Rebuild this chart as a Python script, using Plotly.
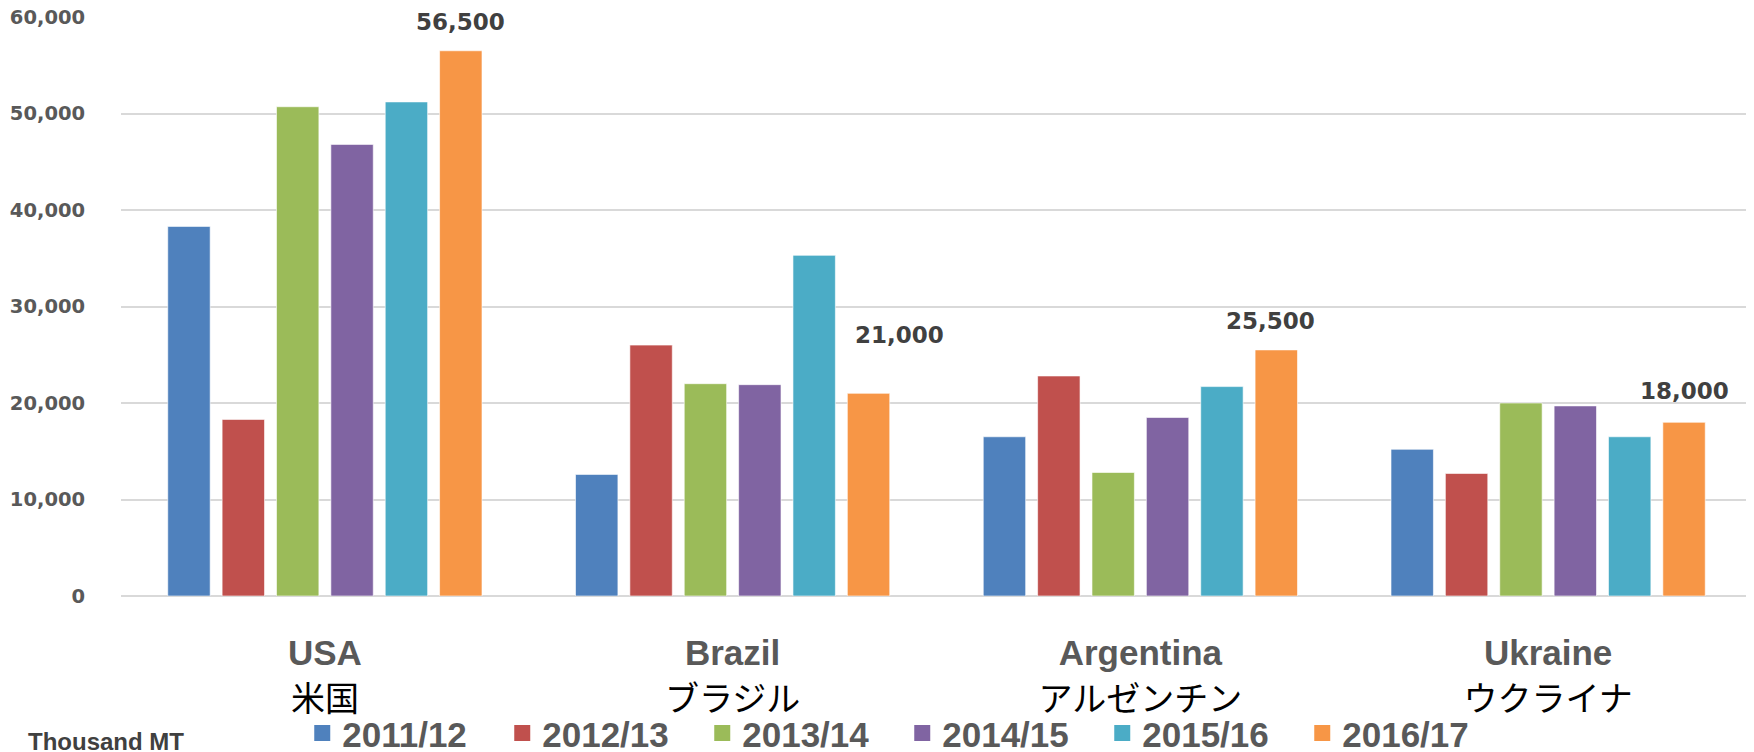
import plotly.graph_objects as go

countries_en = ["USA", "Brazil", "Argentina", "Ukraine"]
countries_ja = ["米国", "ブラジル", "アルゼンチン", "ウクライナ"]
seasons = ["2011/12", "2012/13", "2013/14", "2014/15", "2015/16", "2016/17"]

v_2011 = [38300, 12600, 16500, 15200]
v_2012 = [18300, 26000, 22800, 12700]
v_2013 = [50700, 22000, 12800, 20000]
v_2014 = [46800, 21900, 18500, 19700]
v_2015 = [51200, 35300, 21700, 16500]
v_2016 = [56500, 21000, 25500, 18000]
series = [v_2011, v_2012, v_2013, v_2014, v_2015, v_2016]

colors = ["#4F81BD", "#C0504D", "#9BBB59", "#8064A2", "#4BACC6", "#F79646"]

# label placement tweaks (pixels) for the 2016/17 data labels
label_dx = [0, 31, -6, 0]
label_dy = [29, 58, 29, 31]

BARGAP = 0.2
BARGROUPGAP = 0.22

fig = go.Figure()
for name, vals, col in zip(seasons, series, colors):
    fig.add_trace(go.Bar(
        name=name, x=list(range(len(countries_en))), y=vals,
        legendgroup=name, showlegend=False,
        marker=dict(color=col, line=dict(color="rgba(255,255,255,0.6)", width=1)),
    ))
# legend entries with larger square swatches
for name, col in zip(seasons, colors):
    fig.add_trace(go.Scatter(
        name=name, x=[None], y=[None], mode="markers", legendgroup=name,
        marker=dict(symbol="square", size=19, color=col), hoverinfo="skip",
    ))

ticktext = [
    f"<b>{en}</b><br><span style='color:#000000;font-family:Noto Sans CJK JP;font-weight:normal;font-size:34px'>{ja}</span>"
    for en, ja in zip(countries_en, countries_ja)
]

# orange bar offset within a category group
n = len(series)
slot = (1 - BARGAP) / n
off_last = -(1 - BARGAP) / 2 + slot * (n - 0.5)

for i, v in enumerate(v_2016):
    fig.add_annotation(
        x=i + off_last, y=v, xref="x", yref="y",
        text=f"<b>{v:,}</b>", showarrow=False,
        xanchor="center", yanchor="middle",
        xshift=label_dx[i], yshift=label_dy[i],
        font=dict(family="DejaVu Sans", size=23, color="#404040"),
    )

fig.add_annotation(
    x=-0.058, y=-0.252, xref="paper", yref="paper",
    text="<b>Thousand MT</b>", showarrow=False,
    xanchor="left", yanchor="middle",
    font=dict(family="Liberation Sans", size=24, color="#404040"),
)

# page body adds an 8px offset; the figure is sized to compensate
fig.update_layout(
    width=1746, height=744,
    margin=dict(l=113, r=2, t=9, b=156, autoexpand=False),
    plot_bgcolor="white", paper_bgcolor="white",
    barmode="group", bargap=BARGAP, bargroupgap=BARGROUPGAP,
    showlegend=True,
    legend=dict(
        orientation="h", x=0.479, xanchor="center", y=-0.237, yanchor="middle",
        bgcolor="rgba(0,0,0,0)",
        font=dict(family="Liberation Sans", size=35, color="#595959", weight="bold"),
        entrywidth=155, itemwidth=30, traceorder="normal", itemsizing="trace",
    ),
    xaxis=dict(
        tickmode="array", tickvals=list(range(len(countries_en))), ticktext=ticktext,
        range=[-0.5, len(countries_en) - 0.5],
        tickfont=dict(family="Liberation Sans", size=35, color="#595959"),
        showgrid=False, zeroline=False, showline=False, automargin=False,
        ticks="outside", ticklen=26, tickcolor="rgba(0,0,0,0)",
    ),
    yaxis=dict(
        range=[0, 60000], tickvals=[0, 10000, 20000, 30000, 40000, 50000, 60000],
        tickformat=",d", automargin=False, ticklabeloverflow="allow",
        tickfont=dict(family="DejaVu Sans", size=19.5, color="#595959", weight="bold"),
        showgrid=True, gridcolor="#D9D9D9", gridwidth=1.5,
        zeroline=True, zerolinecolor="#D9D9D9", zerolinewidth=1.5,
        showline=False, ticks="outside", ticklen=31, tickcolor="rgba(0,0,0,0)",
    ),
)

fig.write_html("out.html")
